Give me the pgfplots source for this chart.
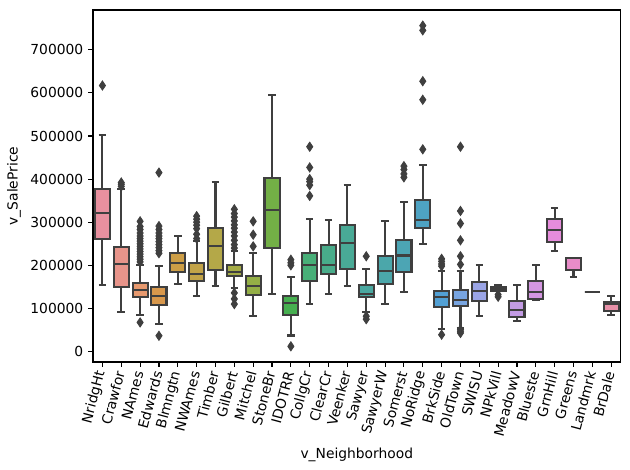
\documentclass[border=0pt]{standalone}
\usepackage{pgfplots}
\pgfplotsset{compat=1.18}
\usepackage{fontspec}
\setmainfont{DejaVu Sans}
\definecolor{bgray}{HTML}{3F3F3F}
\definecolor{c0}{HTML}{E8909F}
\definecolor{c1}{HTML}{E8948A}
\definecolor{c2}{HTML}{E7996E}
\definecolor{c3}{HTML}{D8984C}
\definecolor{c4}{HTML}{CD9E46}
\definecolor{c5}{HTML}{C2A348}
\definecolor{c6}{HTML}{B4A848}
\definecolor{c7}{HTML}{A5AC46}
\definecolor{c8}{HTML}{94AF46}
\definecolor{c9}{HTML}{73AF46}
\definecolor{c10}{HTML}{46AF50}
\definecolor{c11}{HTML}{48AF78}
\definecolor{c12}{HTML}{48AC8A}
\definecolor{c13}{HTML}{49AA96}
\definecolor{c14}{HTML}{4AA8A0}
\definecolor{c15}{HTML}{4BA7AA}
\definecolor{c16}{HTML}{4CA5B4}
\definecolor{c17}{HTML}{4EA3C3}
\definecolor{c18}{HTML}{52A0D4}
\definecolor{c19}{HTML}{78A5E1}
\definecolor{c20}{HTML}{9BA5E6}
\definecolor{c21}{HTML}{AFA0E6}
\definecolor{c22}{HTML}{C39BE4}
\definecolor{c23}{HTML}{D496E1}
\definecolor{c24}{HTML}{E68CDC}
\definecolor{c25}{HTML}{E88CC8}
\definecolor{c26}{HTML}{E88EB4}
\definecolor{c27}{HTML}{E890A8}
\begin{document}
\begin{tikzpicture}
\useasboundingbox (0,0) rectangle (453.6bp,338.4bp);
\begin{axis}[
  at={(66.96bp,77.76bp)}, anchor=south west,
  scale only axis, width=379.9bp, height=253.4bp,
  xmin=-0.5, xmax=27.5, ymin=-24300, ymax=792100,
  xtick={0,1,2,3,4,5,6,7,8,9,10,11,12,13,14,15,16,17,18,19,20,21,22,23,24,25,26,27},
  xticklabels={NridgHt,Crawfor,NAmes,Edwards,Blmngtn,NWAmes,Timber,Gilbert,Mitchel,StoneBr,IDOTRR,CollgCr,ClearCr,Veenker,Sawyer,SawyerW,Somerst,NoRidge,BrkSide,OldTown,SWISU,NPkVill,MeadowV,Blueste,GrnHill,Greens,Landmrk,BrDale},
  ytick={0,100000,200000,300000,400000,500000,600000,700000},
  scaled y ticks=false,
  yticklabel style={/pgf/number format/fixed,/pgf/number format/1000 sep={}},
  /pgf/number format/assume math mode=true,
  xticklabel style={rotate=75, anchor=east},
  tick label style={font=\fontsize{10}{12}\selectfont},
  label style={font=\fontsize{10}{12}\selectfont},
  xlabel={v\_Neighborhood}, ylabel={v\_SalePrice},
  tick align=outside, xtick pos=left, ytick pos=left,
  major tick length=3.5pt,
  tick style={black, line width=0.8pt},
  axis line style={black, line width=0.8pt},
  unbounded coords=jump,
  every axis plot/.append style={draw=bgray, line width=1.5pt},
]
% whiskers and caps
\addplot[mark=none] coordinates {
(0,376000) (0,502000) (0,nan) (-0.2,502000) (0.2,502000) (0,nan) (0,262000) (0,155000) (0,nan) (-0.2,155000) (0.2,155000) (0,nan)
(1,242000) (1,377000) (1,nan) (0.8,377000) (1.2,377000) (1,nan) (1,149000) (1,91000) (1,nan) (0.8,91000) (1.2,91000) (1,nan)
(2,159000) (2,201700) (2,nan) (1.8,201700) (2.2,201700) (2,nan) (2,126500) (2,84500) (2,nan) (1.8,84500) (2.2,84500) (2,nan)
(3,149700) (3,197800) (3,nan) (2.8,197800) (3.2,197800) (3,nan) (3,108600) (3,63600) (3,nan) (2.8,63600) (3.2,63600) (3,nan)
(4,228900) (4,267600) (4,nan) (3.8,267600) (4.2,267600) (4,nan) (4,184600) (4,157500) (4,nan) (3.8,157500) (4.2,157500) (4,nan)
(5,205600) (5,256000) (5,nan) (4.8,256000) (5.2,256000) (5,nan) (5,164500) (5,128000) (5,nan) (4.8,128000) (5.2,128000) (5,nan)
(6,286000) (6,393300) (6,nan) (5.8,393300) (6.2,393300) (6,nan) (6,188500) (6,151300) (6,nan) (5.8,151300) (6.2,151300) (6,nan)
(7,200000) (7,232700) (7,nan) (6.8,232700) (7.2,232700) (7,nan) (7,174600) (7,146600) (7,nan) (6.8,146600) (7.2,146600) (7,nan)
(8,174600) (8,228900) (8,nan) (7.8,228900) (8.2,228900) (8,nan) (8,131900) (8,81500) (8,nan) (7.8,81500) (8.2,81500) (8,nan)
(9,401900) (9,595000) (9,nan) (8.8,595000) (9.2,595000) (9,nan) (9,240500) (9,132700) (9,nan) (8.8,132700) (9.2,132700) (9,nan)
(10,128000) (10,172200) (10,nan) (9.8,172200) (10.2,172200) (10,nan) (10,85300) (10,37200) (10,nan) (9.8,37200) (10.2,37200) (10,nan)
(11,228100) (11,306400) (11,nan) (10.8,306400) (11.2,306400) (11,nan) (11,164500) (11,110900) (11,nan) (10.8,110900) (11.2,110900) (11,nan)
(12,246700) (12,304900) (12,nan) (11.8,304900) (12.2,304900) (12,nan) (12,180000) (12,132700) (12,nan) (11.8,132700) (12.2,132700) (12,nan)
(13,293200) (13,386300) (13,nan) (12.8,386300) (13.2,386300) (13,nan) (13,192400) (13,151300) (13,nan) (12.8,151300) (13.2,151300) (13,nan)
(14,153600) (14,190800) (14,nan) (13.8,190800) (14.2,190800) (14,nan) (14,127200) (14,90800) (14,nan) (13.8,90800) (14.2,90800) (14,nan)
(15,221100) (15,302600) (15,nan) (14.8,302600) (15.2,302600) (15,nan) (15,157500) (15,109400) (15,nan) (14.8,109400) (15.2,109400) (15,nan)
(16,259100) (16,346800) (16,nan) (15.8,346800) (16.2,346800) (16,nan) (16,184600) (16,138900) (16,nan) (15.8,138900) (16.2,138900) (16,nan)
(17,351400) (17,432900) (17,nan) (16.8,432900) (17.2,432900) (17,nan) (17,285500) (17,249000) (17,nan) (16.8,249000) (17.2,249000) (17,nan)
(18,139600) (18,186200) (18,nan) (17.8,186200) (18.2,186200) (18,nan) (18,104000) (18,52800) (18,nan) (17.8,52800) (18.2,52800) (18,nan)
(19,142000) (19,186200) (19,nan) (18.8,186200) (19.2,186200) (19,nan) (19,106300) (19,55100) (19,nan) (18.8,55100) (19.2,55100) (19,nan)
(20,160600) (20,201700) (20,nan) (19.8,201700) (20.2,201700) (20,nan) (20,117900) (20,81500) (20,nan) (19.8,81500) (20.2,81500) (20,nan)
(21,149700) (21,155200) (21,nan) (20.8,155200) (21.2,155200) (21,nan) (21,141200) (21,140000) (21,nan) (20.8,140000) (21.2,140000) (21,nan)
(22,116400) (22,153600) (22,nan) (21.8,153600) (22.2,153600) (22,nan) (22,80700) (22,71400) (22,nan) (21.8,71400) (22.2,71400) (22,nan)
(23,164500) (23,201700) (23,nan) (22.8,201700) (23.2,201700) (23,nan) (23,122600) (23,119000) (23,nan) (22.8,119000) (23.2,119000) (23,nan)
(24,307200) (24,332000) (24,nan) (23.8,332000) (24.2,332000) (24,nan) (24,254500) (24,232700) (24,nan) (23.8,232700) (24.2,232700) (24,nan)
(25,217200) (25,217200) (25,nan) (24.8,217200) (25.2,217200) (25,nan) (25,190000) (25,172200) (25,nan) (24.8,172200) (25.2,172200) (25,nan)
(27,114800) (27,128000) (27,nan) (26.8,128000) (27.2,128000) (27,nan) (27,94600) (27,83800) (27,nan) (26.8,83800) (27.2,83800)
};
% boxes
\addplot[fill=c0] coordinates {(-0.4,262000) (0.4,262000) (0.4,376000) (-0.4,376000)} -- cycle;
\addplot[fill=c1] coordinates {(0.6,149000) (1.4,149000) (1.4,242000) (0.6,242000)} -- cycle;
\addplot[fill=c2] coordinates {(1.6,126500) (2.4,126500) (2.4,159000) (1.6,159000)} -- cycle;
\addplot[fill=c3] coordinates {(2.6,108600) (3.4,108600) (3.4,149700) (2.6,149700)} -- cycle;
\addplot[fill=c4] coordinates {(3.6,184600) (4.4,184600) (4.4,228900) (3.6,228900)} -- cycle;
\addplot[fill=c5] coordinates {(4.6,164500) (5.4,164500) (5.4,205600) (4.6,205600)} -- cycle;
\addplot[fill=c6] coordinates {(5.6,188500) (6.4,188500) (6.4,286000) (5.6,286000)} -- cycle;
\addplot[fill=c7] coordinates {(6.6,174600) (7.4,174600) (7.4,200000) (6.6,200000)} -- cycle;
\addplot[fill=c8] coordinates {(7.6,131900) (8.4,131900) (8.4,174600) (7.6,174600)} -- cycle;
\addplot[fill=c9] coordinates {(8.6,240500) (9.4,240500) (9.4,401900) (8.6,401900)} -- cycle;
\addplot[fill=c10] coordinates {(9.6,85300) (10.4,85300) (10.4,128000) (9.6,128000)} -- cycle;
\addplot[fill=c11] coordinates {(10.6,164500) (11.4,164500) (11.4,228100) (10.6,228100)} -- cycle;
\addplot[fill=c12] coordinates {(11.6,180000) (12.4,180000) (12.4,246700) (11.6,246700)} -- cycle;
\addplot[fill=c13] coordinates {(12.6,192400) (13.4,192400) (13.4,293200) (12.6,293200)} -- cycle;
\addplot[fill=c14] coordinates {(13.6,127200) (14.4,127200) (14.4,153600) (13.6,153600)} -- cycle;
\addplot[fill=c15] coordinates {(14.6,157500) (15.4,157500) (15.4,221100) (14.6,221100)} -- cycle;
\addplot[fill=c16] coordinates {(15.6,184600) (16.4,184600) (16.4,259100) (15.6,259100)} -- cycle;
\addplot[fill=c17] coordinates {(16.6,285500) (17.4,285500) (17.4,351400) (16.6,351400)} -- cycle;
\addplot[fill=c18] coordinates {(17.6,104000) (18.4,104000) (18.4,139600) (17.6,139600)} -- cycle;
\addplot[fill=c19] coordinates {(18.6,106300) (19.4,106300) (19.4,142000) (18.6,142000)} -- cycle;
\addplot[fill=c20] coordinates {(19.6,117900) (20.4,117900) (20.4,160600) (19.6,160600)} -- cycle;
\addplot[fill=c21] coordinates {(20.6,141200) (21.4,141200) (21.4,149700) (20.6,149700)} -- cycle;
\addplot[fill=c22] coordinates {(21.6,80700) (22.4,80700) (22.4,116400) (21.6,116400)} -- cycle;
\addplot[fill=c23] coordinates {(22.6,122600) (23.4,122600) (23.4,164500) (22.6,164500)} -- cycle;
\addplot[fill=c24] coordinates {(23.6,254500) (24.4,254500) (24.4,307200) (23.6,307200)} -- cycle;
\addplot[fill=c25] coordinates {(24.6,190000) (25.4,190000) (25.4,217200) (24.6,217200)} -- cycle;
\addplot[fill=c26] coordinates {(25.6,137000) (26.4,137000) (26.4,137000) (25.6,137000)} -- cycle;
\addplot[fill=c27] coordinates {(26.6,94600) (27.4,94600) (27.4,114800) (26.6,114800)} -- cycle;
% medians
\addplot[mark=none] coordinates {
(-0.4,321000) (0.4,321000) (0,nan)
(0.6,202500) (1.4,202500) (1,nan)
(1.6,142700) (2.4,142700) (2,nan)
(2.6,128800) (3.4,128800) (3,nan)
(3.6,205600) (4.4,205600) (4,nan)
(4.6,180800) (5.4,180800) (5,nan)
(5.6,244400) (6.4,244400) (6,nan)
(6.6,184600) (7.4,184600) (7,nan)
(7.6,151300) (8.4,151300) (8,nan)
(8.6,328200) (9.4,328200) (9,nan)
(9.6,111700) (10.4,111700) (10,nan)
(10.6,201700) (11.4,201700) (11,nan)
(11.6,201700) (12.4,201700) (12,nan)
(12.6,251400) (13.4,251400) (13,nan)
(13.6,134200) (14.4,134200) (14,nan)
(14.6,186200) (15.4,186200) (15,nan)
(15.6,222700) (16.4,222700) (16,nan)
(16.6,304900) (17.4,304900) (17,nan)
(17.6,125700) (18.4,125700) (18,nan)
(18.6,120200) (19.4,120200) (19,nan)
(19.6,139600) (20.4,139600) (20,nan)
(20.6,145800) (21.4,145800) (21,nan)
(21.6,95400) (22.4,95400) (22,nan)
(22.6,138900) (23.4,138900) (23,nan)
(23.6,281600) (24.4,281600) (24,nan)
(24.6,216000) (25.4,216000) (25,nan)
(25.6,137000) (26.4,137000) (26,nan)
(26.6,109400) (27.4,109400)
};
% outliers
\addplot[only marks, mark=diamond*, mark size=3.3pt, line width=0.6pt, mark options={fill=bgray, draw=bgray, xscale=0.9}] coordinates {
(0,617000)
(1,392000) (1,388000) (1,383000)
(2,302000) (2,290000) (2,283000) (2,275000) (2,268000) (2,262000) (2,256000) (2,250000) (2,244000) (2,238000) (2,232000) (2,226000) (2,220000) (2,214000) (2,208000) (2,67500)
(3,415000) (3,291000) (3,283000) (3,275000) (3,268000) (3,262000) (3,255000) (3,248000) (3,241000) (3,234000) (3,228000) (3,36500)
(5,314000) (5,307000) (5,300000) (5,293000) (5,285000) (5,272000) (5,262000)
(7,330000) (7,320000) (7,312000) (7,303000) (7,294000) (7,286000) (7,277000) (7,268000) (7,258000) (7,248000) (7,240000) (7,136000) (7,122000) (7,110000)
(8,302000) (8,271000) (8,244000)
(10,213000) (10,206000) (10,200000) (10,12000)
(11,475000) (11,427000) (11,400000) (11,394000) (11,386000) (11,361000)
(14,221000) (14,82000) (14,75000)
(16,430000) (16,422000) (16,412000) (16,404000)
(17,756000) (17,745000) (17,627000) (17,584000) (17,469000)
(18,215000) (18,209000) (18,203000) (18,198000) (18,39000)
(19,475000) (19,326000) (19,297000) (19,258000) (19,221000) (19,202000) (19,51000) (19,47000) (19,43000)
(21,132000) (21,127000)
};
\end{axis}
\end{tikzpicture}
\end{document}
